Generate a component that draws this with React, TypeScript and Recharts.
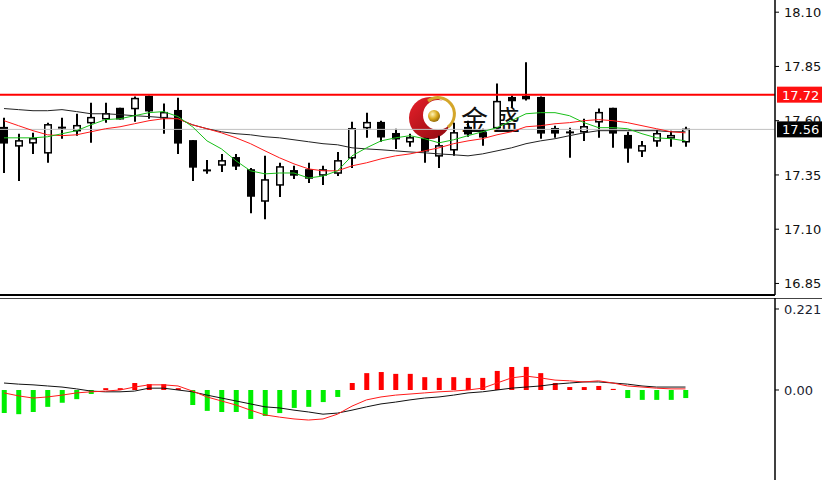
import { ComposedChart, Bar, Line, XAxis, YAxis, ReferenceLine, Cell } from 'recharts';

// Candles, oldest first
const opens = [17.568, 17.484, 17.498, 17.452, 17.566, 17.554, 17.591, 17.609, 17.656, 17.656, 17.711, 17.614, 17.646, 17.507, 17.369, 17.396, 17.429, 17.373, 17.23, 17.304, 17.369, 17.373, 17.35, 17.359, 17.429, 17.568, 17.591, 17.54, 17.503, 17.517, 17.438, 17.466, 17.568, 17.544, 17.568, 17.706, 17.711, 17.706, 17.563, 17.546, 17.549, 17.595, 17.656, 17.531, 17.461, 17.507, 17.521, 17.503];
const highs = [17.614, 17.54, 17.544, 17.591, 17.614, 17.632, 17.683, 17.683, 17.66, 17.711, 17.716, 17.679, 17.706, 17.51, 17.419, 17.447, 17.447, 17.382, 17.438, 17.406, 17.392, 17.406, 17.392, 17.456, 17.595, 17.637, 17.6, 17.563, 17.54, 17.521, 17.531, 17.591, 17.6, 17.563, 17.771, 17.716, 17.869, 17.711, 17.577, 17.568, 17.609, 17.656, 17.66, 17.549, 17.507, 17.558, 17.554, 17.572];
const lows = [17.359, 17.322, 17.447, 17.406, 17.517, 17.531, 17.498, 17.591, 17.605, 17.595, 17.609, 17.54, 17.447, 17.322, 17.355, 17.364, 17.373, 17.174, 17.146, 17.248, 17.331, 17.313, 17.304, 17.345, 17.382, 17.521, 17.503, 17.47, 17.48, 17.406, 17.382, 17.438, 17.526, 17.484, 17.554, 17.66, 17.693, 17.517, 17.521, 17.429, 17.507, 17.521, 17.475, 17.406, 17.433, 17.48, 17.48, 17.48];
const closes = [17.498, 17.507, 17.517, 17.581, 17.568, 17.577, 17.614, 17.632, 17.609, 17.702, 17.646, 17.637, 17.498, 17.387, 17.371, 17.415, 17.392, 17.253, 17.327, 17.387, 17.35, 17.336, 17.373, 17.415, 17.563, 17.591, 17.526, 17.517, 17.521, 17.461, 17.484, 17.544, 17.54, 17.526, 17.688, 17.693, 17.702, 17.544, 17.544, 17.544, 17.572, 17.637, 17.544, 17.475, 17.484, 17.54, 17.531, 17.56];

// moving averages
const maFast = [17.521, 17.521, 17.521, 17.526, 17.54, 17.554, 17.581, 17.605, 17.609, 17.623, 17.637, 17.642, 17.619, 17.572, 17.507, 17.47, 17.415, 17.369, 17.355, 17.359, 17.359, 17.336, 17.345, 17.369, 17.438, 17.475, 17.507, 17.521, 17.531, 17.517, 17.498, 17.512, 17.531, 17.549, 17.568, 17.6, 17.632, 17.637, 17.637, 17.623, 17.591, 17.568, 17.568, 17.563, 17.54, 17.521, 17.517, 17.507];
const maMid = [17.6, 17.577, 17.554, 17.535, 17.531, 17.535, 17.549, 17.563, 17.572, 17.586, 17.6, 17.609, 17.609, 17.581, 17.563, 17.544, 17.521, 17.494, 17.461, 17.429, 17.401, 17.378, 17.369, 17.369, 17.392, 17.406, 17.424, 17.438, 17.447, 17.461, 17.475, 17.494, 17.507, 17.517, 17.535, 17.549, 17.572, 17.577, 17.586, 17.591, 17.6, 17.605, 17.6, 17.591, 17.577, 17.563, 17.549, 17.544];
const maSlow = [17.656, 17.651, 17.646, 17.646, 17.651, 17.642, 17.632, 17.632, 17.628, 17.623, 17.619, 17.614, 17.609, 17.581, 17.563, 17.549, 17.54, 17.535, 17.526, 17.521, 17.512, 17.503, 17.494, 17.489, 17.475, 17.47, 17.466, 17.461, 17.456, 17.452, 17.447, 17.443, 17.438, 17.447, 17.461, 17.475, 17.494, 17.507, 17.517, 17.531, 17.544, 17.554, 17.554, 17.554, 17.554, 17.554, 17.549, 17.549];

// MACD panel
const macdHist = [-0.063, -0.066, -0.06, -0.046, -0.035, -0.025, -0.011, 0.005, 0.005, 0.019, 0.016, 0.016, 0.005, -0.041, -0.057, -0.06, -0.06, -0.079, -0.071, -0.063, -0.049, -0.046, -0.033, -0.019, 0.019, 0.046, 0.049, 0.044, 0.044, 0.035, 0.033, 0.035, 0.033, 0.033, 0.052, 0.063, 0.063, 0.046, 0.019, 0.008, 0.008, 0.011, 0.003, -0.022, -0.027, -0.027, -0.027, -0.022];
const macdMain = [0.019, 0.016, 0.014, 0.011, 0.008, 0.003, -0.003, -0.005, -0.005, -0.003, 0.005, 0.005, 0, -0.005, -0.014, -0.022, -0.03, -0.038, -0.046, -0.049, -0.055, -0.06, -0.066, -0.063, -0.055, -0.046, -0.038, -0.033, -0.027, -0.022, -0.019, -0.014, -0.008, -0.005, 0, 0.005, 0.008, 0.011, 0.016, 0.019, 0.022, 0.022, 0.019, 0.016, 0.011, 0.008, 0.008, 0.008];
const macdSignal = [-0.008, -0.016, -0.022, -0.019, -0.014, -0.008, -0.005, -0.003, 0, 0.008, 0.014, 0.014, 0.011, -0.003, -0.019, -0.03, -0.041, -0.055, -0.068, -0.074, -0.079, -0.082, -0.079, -0.066, -0.044, -0.027, -0.019, -0.014, -0.011, -0.008, -0.005, -0.003, 0, 0.005, 0.019, 0.033, 0.038, 0.033, 0.027, 0.025, 0.022, 0.025, 0.019, 0.011, 0.008, 0.005, 0.003, 0.003];

const priceTicks = [18.1, 17.85, 17.6, 17.35, 17.1, 16.85];
const macdTicks = [0.221, 0];
const resistance = 17.72;
const lastPrice = 17.56;

const candles = opens.map((open, i) => ({
  i,
  open,
  high: highs[i],
  low: lows[i],
  close: closes[i],
  fast: maFast[i],
  mid: maMid[i],
  slow: maSlow[i],
}));

const macdRows = macdHist.map((hist, i) => ({
  i,
  hist,
  main: macdMain[i],
  signal: macdSignal[i],
}));

const X_DOMAIN: [number, number] = [-0.276, 53.172];
const FONT = 'DejaVu Sans, Verdana, sans-serif';
const tickStyle = { fill: '#111', fontSize: 13, fontFamily: FONT };

const CandleShape = (props: any) => {
  const { x, y, width, height, payload } = props;
  if (!payload || height == null) return null;
  const { open, close, high, low } = payload;
  const top = Math.min(y, y + height);
  const h = Math.abs(height);
  const toPx = (v: number) => top + ((high - v) / (high - low)) * h;
  const cx = Math.round(x + width / 2);
  const bodyTop = toPx(Math.max(open, close));
  const bodyBottom = toPx(Math.min(open, close));
  const bodyH = bodyBottom - bodyTop;
  return (
    <g>
      <line x1={cx} x2={cx} y1={top} y2={top + h} stroke="#000" strokeWidth={2} />
      {bodyH < 1.5 ? (
        <line x1={cx - 4} x2={cx + 4} y1={bodyTop} y2={bodyTop} stroke="#000" strokeWidth={2} />
      ) : (
        <rect
          x={cx - 3.25}
          y={bodyTop}
          width={6.5}
          height={bodyH}
          fill={close > open ? '#fff' : '#000'}
          stroke="#000"
          strokeWidth={1.5}
        />
      )}
    </g>
  );
};

const priceTag = (bg: string, text: string) => (props: any) => {
  const vb = props.viewBox || {};
  const left = vb.x + vb.width + 2;
  return (
    <g>
      <rect x={left} y={vb.y - 8} width={48} height={16} fill={bg} />
      <text x={left + 5} y={vb.y + 5} fill="#fff" fontSize={13} fontFamily={FONT}>
        {text}
      </text>
    </g>
  );
};

const Logo = () => (
  <svg width={822} height={296} style={{ position: 'absolute', left: 0, top: 0 }}>
    <defs>
      <radialGradient id="goldBall" cx="38%" cy="35%" r="70%">
        <stop offset="0" stopColor="#fff4b8" />
        <stop offset="0.55" stopColor="#d9a91c" />
        <stop offset="1" stopColor="#8a6408" />
      </radialGradient>
      <linearGradient id="redMoon" x1="0" y1="0" x2="1" y2="1">
        <stop offset="0" stopColor="#e8202a" />
        <stop offset="1" stopColor="#8c0a10" />
      </linearGradient>
    </defs>
    <circle cx={430} cy={118} r={21} fill="url(#redMoon)" />
    <circle cx={438} cy={115} r={15} fill="#fff" />
    <path d="M 428 101 A 15 15 0 0 1 448 127" fill="none" stroke="#d4a62a" strokeWidth={3} />
    <circle cx={434} cy={116} r={6} fill="url(#goldBall)" />
    <text x={461} y={130} fontSize={27} fill="#111" letterSpacing={5} fontFamily="Noto Sans CJK SC">
      金盛
    </text>
  </svg>
);

export default function App() {
  return (
    <div
      style={{
        position: 'absolute',
        left: 0,
        top: 0,
        width: 822,
        height: 480,
        background: '#fff',
        overflow: 'hidden',
      }}
    >
      <Logo />
      <div style={{ position: 'absolute', left: 0, top: 0 }}>
        <ComposedChart width={822} height={296} data={candles} margin={{ top: 0, right: 0, bottom: 0, left: 0 }}>
          <XAxis
            type="number"
            dataKey="i"
            domain={X_DOMAIN}
            allowDataOverflow
            tick={false}
            tickLine={false}
            height={1}
            axisLine={{ stroke: '#000', strokeWidth: 2 }}
          />
          <YAxis
            orientation="right"
            width={47}
            domain={[16.7968, 18.1562]}
            allowDataOverflow
            ticks={priceTicks}
            tickFormatter={(v: number) => v.toFixed(2)}
            tick={tickStyle}
            tickSize={4}
            tickMargin={5}
            tickLine={{ stroke: '#000' }}
            axisLine={{ stroke: '#000', strokeWidth: 1.5 }}
          />
          <ReferenceLine y={lastPrice} stroke="#c0c0c0" strokeWidth={1} label={priceTag('#000', '17.56')} />
          <Bar
            dataKey={(d: any) => [d.low, d.high]}
            barSize={7}
            shape={CandleShape}
            activeBar={false}
            isAnimationActive={false}
          />
          <Line dataKey="slow" type="linear" stroke="#222" strokeWidth={1} dot={false} activeDot={false} isAnimationActive={false} />
          <Line dataKey="mid" type="linear" stroke="#ff1a1a" strokeWidth={1} dot={false} activeDot={false} isAnimationActive={false} />
          <Line dataKey="fast" type="linear" stroke="#19c019" strokeWidth={1} dot={false} activeDot={false} isAnimationActive={false} />
          <ReferenceLine y={resistance} stroke="#ff0000" strokeWidth={2} label={priceTag('#ff1010', '17.72')} />
        </ComposedChart>
      </div>
      <div style={{ position: 'absolute', left: 0, top: 298, width: 822, height: 1, background: '#444' }} />
      <div style={{ position: 'absolute', left: 0, top: 298 }}>
        <ComposedChart width={822} height={182} data={macdRows} margin={{ top: 0, right: 0, bottom: 0, left: 0 }}>
          <XAxis type="number" dataKey="i" domain={X_DOMAIN} allowDataOverflow hide />
          <YAxis
            orientation="right"
            width={47}
            domain={[-0.2456, 0.251]}
            allowDataOverflow
            ticks={macdTicks}
            tickFormatter={(v: number) => (v === 0 ? '0.00' : String(v))}
            tick={{ ...tickStyle, fill: '#1c2433' }}
            tickSize={4}
            tickMargin={5}
            tickLine={{ stroke: '#000' }}
            axisLine={{ stroke: '#000', strokeWidth: 1.5 }}
          />
          <Bar dataKey="hist" barSize={5} activeBar={false} isAnimationActive={false}>
            {macdRows.map((r) => (
              <Cell key={r.i} fill={r.hist >= 0 ? '#ff0000' : '#00ee00'} />
            ))}
          </Bar>
          <Line dataKey="main" type="linear" stroke="#111" strokeWidth={1} dot={false} activeDot={false} isAnimationActive={false} />
          <Line dataKey="signal" type="linear" stroke="#ff1a1a" strokeWidth={1} dot={false} activeDot={false} isAnimationActive={false} />
        </ComposedChart>
      </div>
    </div>
  );
}
